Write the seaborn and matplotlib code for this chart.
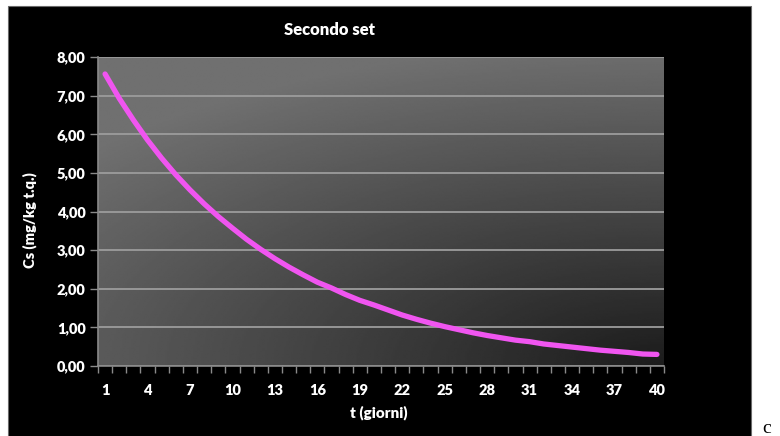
import numpy as np
import pandas as pd
import seaborn as sns
import matplotlib.pyplot as plt
from matplotlib.patches import Rectangle
from matplotlib.ticker import FixedLocator, FuncFormatter

# Concentration over time (days 1..40)
giorni = list(range(1, 41))
cs = [7.56, 6.93, 6.37, 5.85, 5.38, 4.95, 4.56, 4.20, 3.87, 3.57,
      3.28, 3.02, 2.78, 2.56, 2.36, 2.17, 2.02, 1.85, 1.70, 1.58,
      1.45, 1.32, 1.21, 1.11, 1.02, 0.94, 0.86, 0.79, 0.73, 0.67,
      0.63, 0.57, 0.53, 0.49, 0.45, 0.41, 0.38, 0.35, 0.31, 0.30]
tick_giorni = [1, 4, 7, 10, 13, 16, 19, 22, 25, 28, 31, 34, 37, 40]
y_ticks = [0, 1, 2, 3, 4, 5, 6, 7, 8]

df = pd.DataFrame({"giorni": giorni, "cs": cs})

sns.set_theme(style="dark")
plt.rcParams["font.family"] = ["Lato", "DejaVu Sans"]
BOLD = "heavy"

W, H = 780, 436
fig = plt.figure(figsize=(W / 100, H / 100), dpi=100)
fig.patch.set_facecolor("white")

# black chart frame
fig.add_artist(Rectangle((8 / W, -0.01), (751 - 8) / W, (436 - 6) / H + 0.01,
                         transform=fig.transFigure, facecolor="black",
                         edgecolor="#6a6a6a", lw=0.8, zorder=0))

x0, x1, y0, y1 = 98, 664, 57, 366
ax = fig.add_axes([x0 / W, 1 - y1 / H, (x1 - x0) / W, (y1 - y0) / H])
ax.set_facecolor("#444444")

# shaded plot-area background: light top-left, dark toward bottom-right
gx, gy = np.meshgrid(np.linspace(0, 1, 300), np.linspace(0, 1, 200))
r = np.sqrt((62 * (1 - gx)) ** 2 + (80 * (1 - gy)) ** 2)
shade = np.clip(28 + r, 28, 112) / 255.0
ax.imshow(shade, cmap="gray", vmin=0, vmax=1, extent=[0, 1, 0, 1],
          transform=ax.transAxes, aspect="auto", zorder=0,
          interpolation="bilinear")

sns.lineplot(data=df, x="giorni", y="cs", ax=ax, color="#f055f0",
             lw=3.8, zorder=3, solid_capstyle="round")

ax.set_xlim(0.5, 40.5)
ax.set_ylim(0, 8)

ax.set_axisbelow(True)
ax.yaxis.grid(True, color="#9c9c9c", lw=1.3)
ax.xaxis.grid(False)

for s in ["top", "right"]:
    ax.spines[s].set_visible(False)
for s in ["left", "bottom"]:
    ax.spines[s].set_visible(True)
    ax.spines[s].set_color("#8a8a8a")
    ax.spines[s].set_linewidth(1.2)

ax.set_yticks(y_ticks)
ax.yaxis.set_major_formatter(FuncFormatter(lambda v, p: f"{v:.2f}".replace(".", ",")))
ax.tick_params(axis="y", length=6, width=1, color="#8a8a8a", labelcolor="white",
               labelsize=10.5, pad=3, left=True)

ax.xaxis.set_major_locator(FixedLocator(tick_giorni))
ax.xaxis.set_minor_locator(FixedLocator(np.arange(0.5, 41, 1)))
ax.set_xticklabels([str(t) for t in tick_giorni])
ax.tick_params(axis="x", which="major", length=0, labelcolor="white",
               labelsize=10.5, pad=13)
ax.tick_params(axis="x", which="minor", length=5, width=1, color="#8a8a8a",
               bottom=True)
for lab in ax.get_xticklabels() + ax.get_yticklabels():
    lab.set_fontweight(BOLD)

ax.set_xlabel("")
ax.set_ylabel("")

fig.text(330 / W, 1 - 30 / H, "Secondo set", ha="center", va="center",
         color="white", fontsize=12, fontweight=BOLD)
fig.text(30 / W, 1 - 220 / H, "Cs (mg/kg t.q.)", ha="center", va="center",
         rotation=90, color="white", fontsize=10.5, fontweight=BOLD)
fig.text(379 / W, 1 - 413 / H, "t (giorni)", ha="center", va="center",
         color="white", fontsize=11, fontweight=BOLD)
fig.text(767 / W, 1 - 428 / H, "c", ha="center", va="center",
         color="black", fontsize=14, family="Liberation Serif",
         fontweight="normal")

fig.savefig("out.png", dpi=100, facecolor="white")
